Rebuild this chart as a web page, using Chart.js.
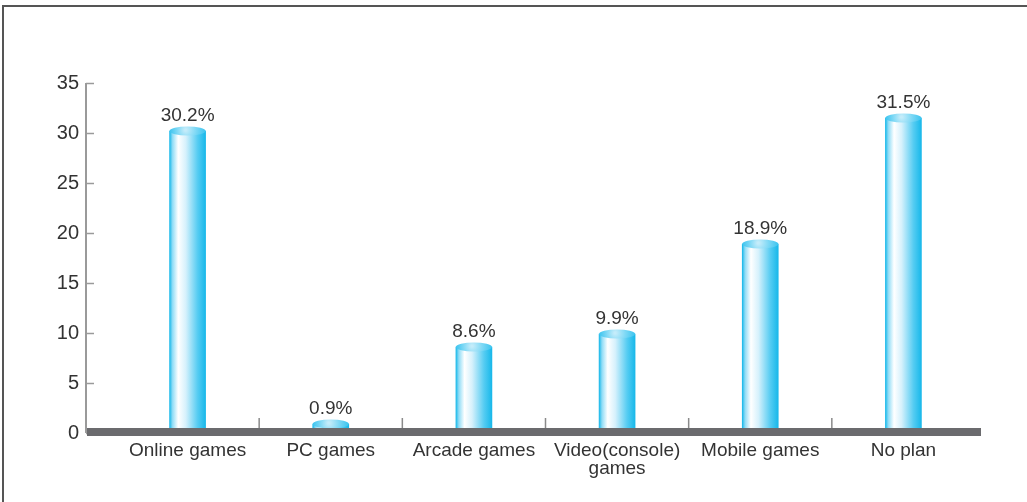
<!DOCTYPE html>
<html>
<head>
<meta charset="utf-8">
<script src="https://cdn.jsdelivr.net/npm/chart.js@4.4.1/dist/chart.umd.min.js"></script>
<style>
  html, body { margin: 0; padding: 0; background: #fff; }
  #wrap { position: relative; width: 1027px; height: 502px; }
  #frame { position: absolute; left: 2px; top: 5px; right: 0; bottom: -10px;
           border-left: 2px solid #555; border-top: 2px solid #555; }
  canvas { position: absolute; left: 0; top: 0; }
</style>
</head>
<body>
<div id="wrap">
  <div id="frame"></div>
  <canvas id="myChart" width="1027" height="502"></canvas>
</div>
<script>
// categories and values (percent)
var categories = ["Online games", "PC games", "Arcade games", ["Video(console)", "games"], "Mobile games", "No plan"];
var values = [30.2, 0.9, 8.6, 9.9, 18.9, 31.5];
var yTicks = [0, 5, 10, 15, 20, 25, 30, 35];

var barW = 36;
var sans = "'Liberation Sans', Arial, sans-serif";

// cylinder body colour: light highlight left of centre, cyan at both edges
function bodyFill(context) {
    var chart = context.chart;
    var xs = chart.scales.x;
    if (!xs || !chart.chartArea) return '#6fd3f4';
    var cx = xs.getPixelForValue(context.dataIndex);
    var g = chart.ctx.createLinearGradient(cx - barW / 2, 0, cx + barW / 2, 0);
    g.addColorStop(0, '#1ab9ea');
    g.addColorStop(0.08, '#8fdcf6');
    g.addColorStop(0.24, '#ffffff');
    g.addColorStop(0.45, '#d6f1fc');
    g.addColorStop(0.78, '#55ccf2');
    g.addColorStop(1, '#18b8ea');
    return g;
}

// y axis line on the left, baseline bar, separators, cylinder caps and value labels
var decor = {
    id: 'decor',
    afterDatasetsDraw: function (chart) {
        var ctx = chart.ctx;
        var ys = chart.scales.y;
        var xs = chart.scales.x;
        var y0 = ys.getPixelForValue(0);
        var axisX = 86;

        ctx.save();
        // axis line + ticks
        ctx.strokeStyle = '#9a9a9a';
        ctx.lineWidth = 2;
        ctx.beginPath();
        ctx.moveTo(axisX, ys.getPixelForValue(35));
        ctx.lineTo(axisX, y0);
        ctx.stroke();
        yTicks.forEach(function (t) {
            var py = Math.round(ys.getPixelForValue(t)) + 0.5;
            ctx.lineWidth = 1.5;
            ctx.beginPath();
            ctx.moveTo(axisX, py);
            ctx.lineTo(axisX + 8, py);
            ctx.stroke();
        });

        // category separators
        ctx.strokeStyle = '#8a8a8a';
        ctx.lineWidth = 1.5;
        for (var i = 1; i < categories.length; i++) {
            var sx = (xs.getPixelForValue(i - 1) + xs.getPixelForValue(i)) / 2;
            ctx.beginPath();
            ctx.moveTo(sx, y0 - 15);
            ctx.lineTo(sx, y0 - 4);
            ctx.stroke();
        }

        // cylinder caps
        var meta = chart.getDatasetMeta(0);
        meta.data.forEach(function (bar, i) {
            var rx = barW / 2, ry = 4.5;
            var g = ctx.createRadialGradient(bar.x - 2, bar.y - 1, 1, bar.x, bar.y, rx);
            g.addColorStop(0, '#c4ecfa');
            g.addColorStop(0.5, '#7dd8f5');
            g.addColorStop(1, '#3cc4ef');
            ctx.fillStyle = g;
            ctx.beginPath();
            ctx.ellipse(bar.x, bar.y, rx, ry, 0, 0, Math.PI * 2);
            ctx.fill();
        });

        // thick baseline
        ctx.fillStyle = '#6b6b6e';
        ctx.fillRect(87, y0 - 5, 981 - 87, 8);

        // value labels
        ctx.fillStyle = '#333';
        ctx.font = '19px ' + sans;
        ctx.textAlign = 'center';
        ctx.textBaseline = 'alphabetic';
        meta.data.forEach(function (bar, i) {
            ctx.fillText(values[i].toFixed(1) + '%', bar.x, bar.y - 10);
        });
        ctx.restore();
    }
};

var ctx = document.getElementById("myChart").getContext("2d");
var myChart = new Chart(ctx, {
    type: "bar",
    data: {
        labels: categories,
        datasets: [{
            data: values,
            backgroundColor: bodyFill,
            borderWidth: 0,
            barThickness: barW
        }]
    },
    options: {
        responsive: false,
        animation: false,
        layout: { padding: { top: 83, right: 52, left: 0, bottom: 0 } },
        plugins: { legend: { display: false }, tooltip: { enabled: false } },
        scales: {
            x: {
                grid: { display: false, drawTicks: false },
                border: { display: false },
                ticks: {
                    color: '#333',
                    padding: 8,
                    maxRotation: 0,
                    autoSkip: false,
                    font: { family: sans, size: 19, lineHeight: 0.98 }
                },
                afterFit: function (s) { s.height = 69; }
            },
            y: {
                min: 0,
                max: 35,
                afterBuildTicks: function (s) { s.ticks = yTicks.map(function (v) { return { value: v }; }); },
                grid: { display: false, drawTicks: false },
                border: { display: false },
                ticks: {
                    color: '#333',
                    padding: 37,
                    font: { family: sans, size: 20 }
                },
                afterFit: function (s) { s.width = 116; }
            }
        }
    },
    plugins: [decor]
});
</script>
</body>
</html>
